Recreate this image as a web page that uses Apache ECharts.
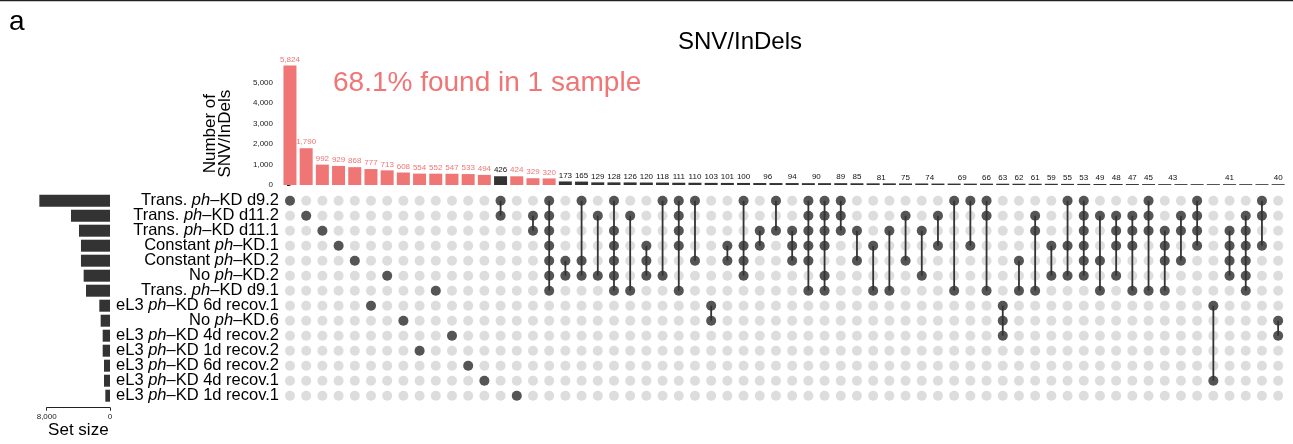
<!DOCTYPE html>
<html style="height: 100%">
<head>
    <meta charset="utf-8">
    <script src="https://cdn.jsdelivr.net/npm/echarts@6/dist/echarts.min.js"></script>
    <title>SNV/InDels upset</title>
</head>
<body style="height: 100%; margin: 0">
<div id="container" style="width: 1293px; height: 444px"></div>
<script type="text/javascript">

    // sets, top to bottom
    let setNames = [
        "Trans. ph–KD d9.2", "Trans. ph–KD d11.2", "Trans. ph–KD d11.1",
        "Constant ph–KD.1", "Constant ph–KD.2", "No ph–KD.2", "Trans. ph–KD d9.1",
        "eL3 ph–KD 6d recov.1", "No ph–KD.6", "eL3 ph–KD 4d recov.2",
        "eL3 ph–KD 1d recov.2", "eL3 ph–KD 6d recov.2", "eL3 ph–KD 4d recov.1",
        "eL3 ph–KD 1d recov.1"
    ]
    let setSizes = [8930, 4930, 3920, 3670, 3670, 3330, 3030, 1350, 1180, 925, 925, 760, 760, 590]

    // intersections, left to right
    let counts = [5824, 1790, 992, 929, 868, 777, 713, 608, 554, 552, 547, 533, 494, 426, 424, 329, 320,
        173, 165, 129, 128, 126, 120, 118, 111, 110, 103, 101, 100, 96, 95, 94, 90, 90, 89, 85, 81, 80,
        75, 74, 70, 69, 67, 66, 63, 62, 61, 59, 55, 53, 49, 48, 47, 45, 43, 43, 42, 41, 41, 41, 40, 40]
    let members = [
        [0], [1], [2], [3], [4], [7], [5], [8], [10], [6], [9], [11], [12], [0, 1], [13], [1, 2],
        [0, 1, 2, 3, 4, 5, 6], [4, 5], [0, 4, 5], [1, 5],
        [0, 2, 3, 4, 5, 6], [1, 6], [3, 4, 5], [0, 5], [0, 1, 2, 3, 6], [0, 4], [7, 8], [3, 4],
        [0, 3, 4, 5], [2, 3], [0, 2], [2, 3, 4], [0, 1, 2, 3, 4, 6], [0, 1, 2, 3, 5, 6], [0, 1, 2],
        [2, 4], [3, 6], [2, 6], [1, 4], [2, 5], [1, 3],
        [0, 6], [0, 3], [0, 1, 6], [7, 8, 9], [4, 6], [1, 2, 6], [3, 5], [0, 3, 5], [0, 1, 2, 3, 4, 5],
        [1, 4, 6], [1, 2, 3, 5], [1, 2, 3, 6], [0, 1, 2, 6], [2, 3, 4, 6], [1, 2, 4], [0, 1, 2, 3],
        [7, 12], [2, 3, 4, 5], [1, 2, 3, 4, 5, 6], [0, 1, 3], [8, 9]
    ]
    // highlighted (red) bars
    let redCols = [0, 1, 2, 3, 4, 5, 6, 7, 8, 9, 10, 11, 12, 14, 15, 16]
    // bar labels that survive the overlap check; "half" ones sit between two bars
    let hiddenLabels = [30, 33, 37, 40, 42, 55, 56, 57, 59, 60]
    let halfLabels = [29, 32, 36, 39, 41, 54]

    let red = '#F07575'
    let dark = '#333333'
    let grey = '#D5D5D5'
    let font = 'Liberation Sans, Arial, Helvetica, sans-serif'

    let barData = counts.map((v, i) => {
        let isRed = redCols.indexOf(i) >= 0
        return {
            value: [i, v],
            itemStyle: {color: isRed ? red : dark},
            label: {
                show: hiddenLabels.indexOf(i) < 0,
                color: isRed ? red : '#111',
                offset: halfLabels.indexOf(i) >= 0 ? [8, 0] : [0, 0]
            }
        }
    })

    let greyDots = []
    for (let c = 0; c < counts.length; c++)
        for (let r = 0; r < setNames.length; r++) greyDots.push([c, r])
    let darkDots = []
    let links = []
    members.forEach((m, c) => {
        m.forEach(r => darkDots.push([c, r]))
        if (m.length > 1) links.push([c, Math.min(...m), Math.max(...m)])
    })

    function richName(name) {
        let parts = name.split('ph')
        return '{n|' + parts[0] + '}{i|ph}{n|' + parts[1] + '}'
    }

    let dom = document.getElementById("container")
    let chart = echarts.init(dom)
    chart.setOption({
        animation: false,
        textStyle: {fontFamily: font},
        graphic: [
            {type: 'line', shape: {x1: 0, y1: 0.5, x2: 1293, y2: 0.5}, style: {stroke: '#222', lineWidth: 1.5}},
            {type: 'text', x: 9, y: 8, style: {text: 'a', font: '28px ' + font, fill: '#000'}},
            {type: 'text', x: 740, y: 42, style: {text: 'SNV/InDels', font: '24px ' + font, fill: '#000',
                    textAlign: 'center', textVerticalAlign: 'middle'}},
            {type: 'text', x: 333, y: 83, style: {text: '68.1% found in 1 sample', font: '28px ' + font,
                    fill: red, textVerticalAlign: 'middle'}}
        ],
        grid: [
            {left: 277, right: 1.9, top: 82.3, height: 102.7},
            {left: 282, right: 1.9, top: 193.2, height: 210},
            {left: 46.7, width: 63.3, top: 193.2, height: 210}
        ],
        xAxis: [
            {gridIndex: 0, type: 'value', min: -0.8, max: 61.8, show: false},
            {gridIndex: 1, type: 'value', min: -8 / 16.2, max: 61.8, show: false},
            {
                gridIndex: 2, type: 'value', min: 0, max: 8000, interval: 8000, inverse: true,
                offset: 4.5,
                axisLine: {show: true, lineStyle: {color: '#222', width: 1}},
                axisTick: {show: true, length: 3, lineStyle: {color: '#222'}},
                axisLabel: {fontSize: 8, color: '#222', margin: 5,
                    formatter: v => v.toLocaleString('en-US')},
                splitLine: {show: false},
                name: 'Set size', nameLocation: 'middle', nameGap: 14,
                nameTextStyle: {fontSize: 17, color: '#000', verticalAlign: 'top'}
            }
        ],
        yAxis: [
            {
                gridIndex: 0, type: 'value', min: 0, max: 5000, interval: 1000,
                axisLine: {show: true, lineStyle: {color: '#222', width: 1}},
                axisTick: {show: true, length: 3, lineStyle: {color: '#222'}},
                axisLabel: {fontSize: 8, color: '#222', margin: 4,
                    formatter: v => v.toLocaleString('en-US')},
                splitLine: {show: false},
                name: 'Number of\nSNV/InDels', nameLocation: 'middle', nameGap: 44,
                nameTextStyle: {fontSize: 17, color: '#000', lineHeight: 15}
            },
            {
                gridIndex: 1, type: 'category', data: setNames, inverse: true,
                axisLine: {show: false}, axisTick: {show: false},
                axisLabel: {
                    interval: 0, margin: 3, formatter: richName,
                    rich: {
                        n: {fontSize: 16.5, color: '#000', fontFamily: font},
                        i: {fontSize: 16.5, color: '#000', fontStyle: 'italic', fontFamily: font}
                    }
                }
            },
            {gridIndex: 2, type: 'category', data: setNames, inverse: true, show: false}
        ],
        series: [
            {
                type: 'bar', xAxisIndex: 0, yAxisIndex: 0, data: barData, barWidth: 13, clip: false,
                label: {position: 'top', distance: 2, fontSize: 8,
                    formatter: p => p.value[1].toLocaleString('en-US')}
            },
            {
                type: 'scatter', xAxisIndex: 1, yAxisIndex: 1, data: greyDots, symbolSize: 10,
                itemStyle: {color: grey}, z: 1
            },
            {
                type: 'custom', xAxisIndex: 1, yAxisIndex: 1, data: links, z: 2,
                renderItem: function (params, api) {
                    let a = api.coord([api.value(0), api.value(1)])
                    let b = api.coord([api.value(0), api.value(2)])
                    return {
                        type: 'line',
                        shape: {x1: a[0], y1: a[1], x2: b[0], y2: b[1]},
                        style: {stroke: dark, lineWidth: 1.8}
                    }
                }
            },
            {
                type: 'scatter', xAxisIndex: 1, yAxisIndex: 1, data: darkDots, symbolSize: 10,
                itemStyle: {color: dark}, z: 3
            },
            {
                type: 'bar', xAxisIndex: 2, yAxisIndex: 2, data: setSizes, barWidth: 12, clip: false,
                itemStyle: {color: dark}
            }
        ]
    })

</script>
</body>
</html>
